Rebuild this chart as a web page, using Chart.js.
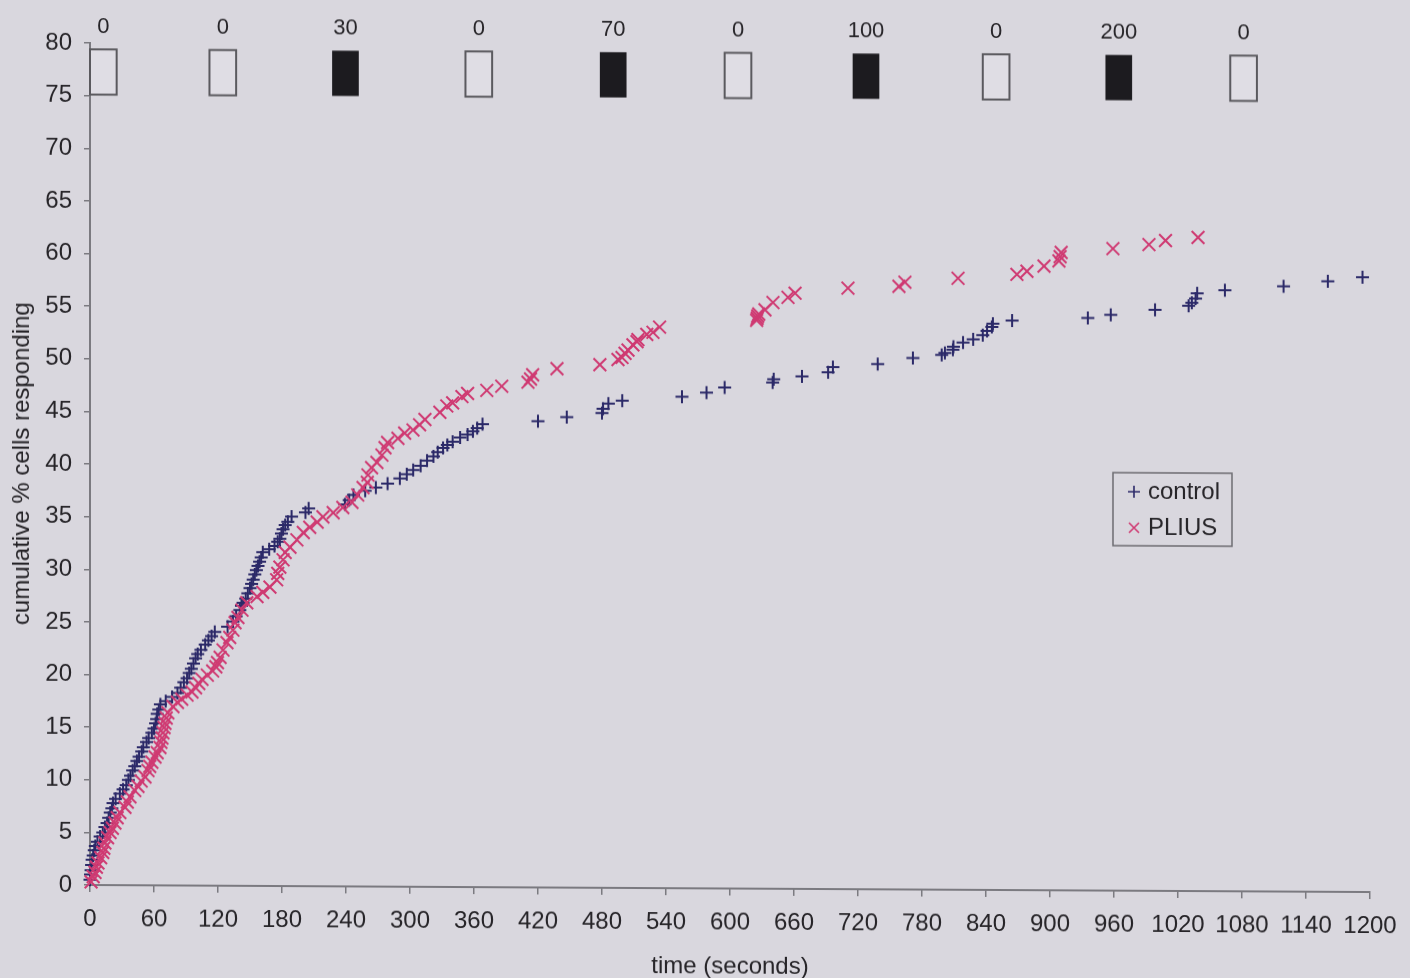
<!DOCTYPE html>
<html>
<head>
<meta charset="utf-8">
<title>Cumulative % cells responding</title>
<script src="https://cdn.jsdelivr.net/npm/chart.js@4.4.1/dist/chart.umd.min.js"></script>
<style>
  html, body { margin: 0; padding: 0; background: #d9d7de; overflow: hidden; }
  #wrap { width: 1410px; height: 978px; }
  /* the printed sheet sits at a slight angle */
  canvas { display: block; transform: skewY(0.315deg); transform-origin: 90px 885px; }
</style>
</head>
<body>
<div id="wrap"><canvas id="chart" width="1410" height="978"></canvas></div>
<script>
// time of each responding cell (s) and the cumulative percentage reached
const controlTime = [0,0.5,1,1.5,2,3,4,5,7,9.5,12,14,16,17.5,19,20.5,21.6,24,28,31,34,36,38,40,42,44,46,48.5,50,53,55,58,60,61.5,62.5,63,64.5,66,71,77,
  82,85,88,91,93,95,97,99,101,104,108,111,114,117,129,
  134,137,140.5,142,143.5,146,148,150,151.5,153,154.5,156,157.5,159,160.5,162,168,173,176,178,179.5,181,183,185.5,189,202,205,
  239,243,247,258,268,279,290.5,297,303,310,316,322,326,331,335,340,347,354,359,363,368,
  420,447,480,481,486,499,555,578,595,640,641,667.5,692,696.5,738.5,771.5,798.5,801.5,809,809.5,818.5,828,837,841,845.5,846.5,864.5,935.5,957,998.5,1030,1033,1036.5,1038,1064,1119,1160.5,1193];
const controlPct = [0.5,1.0,1.4,1.9,2.4,2.8,3.3,3.7,4.1,4.6,5.0,5.5,5.9,6.4,6.9,7.3,7.8,8.2,8.7,9.1,9.5,10.0,10.4,10.9,11.3,11.8,12.2,12.7,13.1,13.6,14.0,14.5,14.9,15.4,15.8,16.3,16.7,17.2,17.5,17.9,
  18.3,18.8,19.3,19.7,20.2,20.6,21.1,21.6,22.0,22.4,22.9,23.3,23.7,24.1,24.6,
  25.1,25.6,26.2,26.6,26.9,27.3,27.8,28.3,28.7,29.1,29.6,30.0,30.4,30.8,31.2,31.7,32.0,32.3,32.7,33.0,33.5,33.9,34.3,34.6,35.1,35.5,35.9,
  36.3,36.7,37.2,37.6,37.9,38.3,38.8,39.2,39.6,40.0,40.5,40.9,41.3,41.7,42.0,42.3,42.7,43.0,43.3,43.6,44.0,
  44.3,44.7,45.1,45.5,46.0,46.3,46.7,47.1,47.6,48.1,48.4,48.7,49.1,49.6,49.9,50.5,50.8,51.0,51.3,51.6,52.0,52.3,52.7,53.1,53.5,53.8,54.1,54.4,54.7,55.2,55.6,55.9,56.3,56.8,57.1,57.5,58.0,58.4];

const pliusTime = [1,3,4.7,6,7.5,10,12,13,14,16.5,18.8,21,23.4,25.5,28,32.8,35,37.5,42,45,48,51.6,54.4,56,58,61,63,65.6,66.5,67.5,68.4,69.5,70.3,71.5,73,77.8,82,86,91,95.6,99,102,105,110,115,118,
  119.5,122,124.7,128.4,131,134,136,138.7,142.5,147,156.6,162,168.7,175,176,178,181,183,187.5,194,200,206,213,218.4,228,237,245.6,251,256,260,260.6,264,269,273.7,276.6,279,288.7,295,302.8,309,314,328,334.5,340,348.7,354,372,386,410.6,413,415,437.8,478,495,498.8,501.6,504.4,509,512.8,513.7,522,527.8,534,
  625,625.5,626,627,632.8,640.3,654.4,661,710.6,758.4,764,813.8,869,878.4,894.4,908.4,909.5,910.5,959,992.8,1008.3,1038.8];
const pliusPct = [0.3,0.8,1.2,1.7,2.1,2.6,3.1,3.5,4.0,4.5,5.0,5.4,5.9,6.4,6.9,7.4,7.9,8.4,9.0,9.4,9.9,10.3,10.9,11.3,11.7,12.2,12.6,13.1,13.6,14.0,14.5,15.0,15.4,15.9,16.4,17.0,17.4,17.7,18.1,18.4,18.8,19.2,19.6,20.0,20.4,20.8,
  21.2,21.7,22.4,23.1,23.6,24.3,25.0,25.5,26.2,26.9,27.5,27.9,28.4,29.1,29.7,30.3,31.0,31.7,32.2,32.9,33.6,34.1,34.6,35.1,35.5,36.0,36.5,37.2,37.9,38.4,39.1,39.8,40.3,41.0,41.7,42.2,42.6,43.1,43.4,43.9,44.4,45.1,45.7,46.0,46.6,46.9,47.2,47.6,48.0,48.3,48.7,49.3,49.7,50.2,50.4,50.8,51.1,51.6,51.9,52.1,52.6,52.8,53.3,
  54.0,54.2,54.4,54.6,55.0,55.7,56.2,56.6,57.1,57.3,57.7,58.1,58.5,58.8,59.3,59.8,60.2,60.6,61.0,61.4,61.8,62.1];

// application periods: start (s), length (s) and dose
const stimulusStart = [0, 112, 227, 352, 478, 595, 715, 837, 952, 1069];
const stimulusLength = 25;
const stimulusDose = [0, 0, 30, 0, 70, 0, 100, 0, 200, 0];

const seriesNames = ['control', 'PLIUS'];
const xTickStep = 60;
const yTickStep = 5;

const FONT = '"Liberation Sans", Arial, sans-serif';
const INK = '#262428';
const AXIS = '#7b7a80';
const NAVY = '#2b2968';
const ROSE = '#cf3a72';

Chart.defaults.font.family = FONT;

const toPoints = (ts, vs) => ts.map((t, i) => ({ x: t, y: vs[i] }));

// open/filled boxes above the curves marking each application period
const stimulusBoxes = {
  id: 'stimulusBoxes',
  afterDatasetsDraw(chart, args, opts) {
    const { ctx, scales: { x, y } } = chart;
    ctx.save();
    stimulusStart.forEach((t0, i) => {
      const l = x.getPixelForValue(t0);
      const r = x.getPixelForValue(t0 + stimulusLength);
      const top = y.getPixelForValue(opts.top);
      const bot = y.getPixelForValue(opts.bottom);
      if (stimulusDose[i] > 0) {
        ctx.fillStyle = '#1c1b1f';
        ctx.fillRect(l, top, r - l, bot - top);
      } else {
        ctx.fillStyle = '#dfdde4';
        ctx.fillRect(l, top, r - l, bot - top);
        ctx.strokeStyle = '#5a595e';
        ctx.lineWidth = 2;
        ctx.strokeRect(l, top, r - l, bot - top);
      }
      ctx.fillStyle = INK;
      ctx.font = '22px ' + FONT;
      ctx.textAlign = 'center';
      ctx.textBaseline = 'middle';
      ctx.fillText(String(stimulusDose[i]), (l + r) / 2, top - 22);
    });
    ctx.restore();
  }
};

// boxed legend inside the plot
const boxedLegend = {
  id: 'boxedLegend',
  afterDraw(chart, args, o) {
    const { ctx } = chart;
    ctx.save();
    ctx.strokeStyle = '#6c6b70';
    ctx.lineWidth = 1.5;
    ctx.strokeRect(o.left, o.top, o.width, o.height);
    chart.data.datasets.forEach((ds, i) => {
      const cy = o.top + o.firstRow + i * o.rowGap;
      const cx = o.left + 21;
      ctx.strokeStyle = ds.borderColor;
      ctx.lineWidth = 1.6;
      ctx.beginPath();
      if (ds.pointStyle === 'cross') {
        ctx.moveTo(cx - 6, cy); ctx.lineTo(cx + 6, cy);
        ctx.moveTo(cx, cy - 6); ctx.lineTo(cx, cy + 6);
      } else {
        ctx.moveTo(cx - 5, cy - 5); ctx.lineTo(cx + 5, cy + 5);
        ctx.moveTo(cx - 5, cy + 5); ctx.lineTo(cx + 5, cy - 5);
      }
      ctx.stroke();
      ctx.fillStyle = INK;
      ctx.font = '24px ' + FONT;
      ctx.textAlign = 'left';
      ctx.textBaseline = 'middle';
      ctx.fillText(ds.label, o.left + 35, cy);
    });
    ctx.restore();
  }
};

new Chart(document.getElementById('chart'), {
  type: 'scatter',
  data: {
    datasets: [
      {
        label: seriesNames[0],
        data: toPoints(controlTime, controlPct),
        pointStyle: 'cross',
        pointRadius: 6.5,
        pointBorderWidth: 2,
        borderColor: NAVY,
        backgroundColor: NAVY,
        order: 1,
        clip: false
      },
      {
        label: seriesNames[1],
        data: toPoints(pliusTime, pliusPct),
        pointStyle: 'crossRot',
        pointRadius: 9,
        pointBorderWidth: 2,
        borderColor: ROSE,
        backgroundColor: ROSE,
        order: 0,
        clip: false
      }
    ]
  },
  options: {
    responsive: false,
    animation: false,
    devicePixelRatio: 1,
    events: [],
    layout: { padding: { top: 43, right: 40, left: 0, bottom: 0 } },
    plugins: {
      legend: { display: false },
      tooltip: { enabled: false },
      stimulusBoxes: { top: 79.4, bottom: 75.1 },
      boxedLegend: { left: 1113, top: 467, width: 119, height: 73, firstRow: 19, rowGap: 36 }
    },
    scales: {
      x: {
        type: 'linear',
        min: 0,
        max: 1200,
        ticks: {
          stepSize: xTickStep,
          autoSkip: false,
          maxRotation: 0,
          color: INK,
          font: { size: 24 },
          padding: 13,
          callback: (v) => String(v)
        },
        grid: { drawOnChartArea: false, drawTicks: true, tickLength: 7, color: AXIS, lineWidth: 1.5 },
        border: { color: AXIS, width: 2 },
        title: {
          display: true,
          text: 'time (seconds)',
          color: INK,
          font: { size: 24 },
          padding: { top: 0, bottom: 0 }
        },
        afterFit(scale) { scale.height = 93; }
      },
      y: {
        min: 0,
        max: 80,
        ticks: {
          stepSize: yTickStep,
          color: INK,
          font: { size: 24 },
          padding: 12
        },
        grid: { drawOnChartArea: false, drawTicks: true, tickLength: 6, color: AXIS, lineWidth: 1.5 },
        border: { color: AXIS, width: 2 },
        title: {
          display: true,
          text: 'cumulative % cells responding',
          color: INK,
          font: { size: 24 },
          padding: { top: 8, bottom: 0 }
        },
        afterFit(scale) { scale.width = 90; }
      }
    }
  },
  plugins: [stimulusBoxes, boxedLegend]
});
</script>
</body>
</html>
